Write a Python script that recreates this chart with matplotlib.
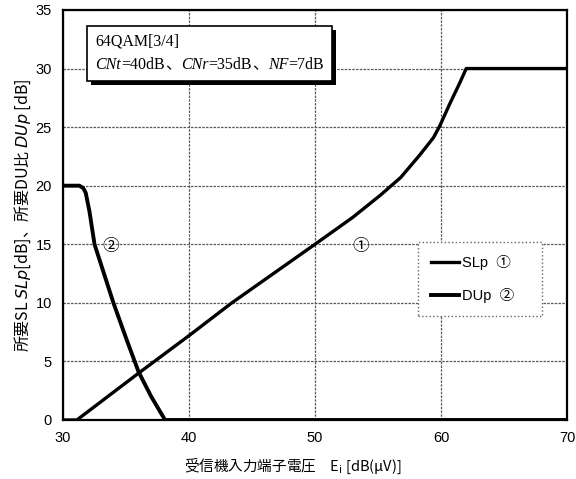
import matplotlib
matplotlib.use("Agg")
import matplotlib.pyplot as plt
import matplotlib.patheffects as pe
from matplotlib.offsetbox import TextArea, HPacker, VPacker, AnchoredOffsetbox

plt.rcParams['font.family'] = ['Liberation Sans', 'Noto Sans CJK JP', 'DejaVu Sans']

# ---- data ----
slp_x = [30, 31.1, 36.0, 40.0, 43.4, 50.0, 53.0, 55.2, 56.8, 58.3, 59.4, 59.9, 60.7, 61.5, 62.0, 70]
slp_y = [0, 0, 4.0, 7.2, 10.0, 15.0, 17.3, 19.2, 20.7, 22.6, 24.1, 25.1, 27.0, 28.8, 30.0, 30]

dup_x = [30, 31.3, 31.6, 31.8, 32.1, 32.5, 34.0, 35.0, 36.0, 37.0, 38.1, 70]
dup_y = [20, 20, 19.8, 19.4, 17.8, 15.0, 10.0, 7.0, 4.1, 2.0, 0, 0]

x_ticks = [30, 40, 50, 60, 70]
y_ticks = [0, 5, 10, 15, 20, 25, 30, 35]

# condition text pieces: (text, italic?)
cond_title = '64QAM[3/4]'
cond_parts = [('CNt', True), ('=40dB', False), ('、', False),
              ('CNr', True), ('=35dB', False), ('、', False),
              ('NF', True), ('=7dB', False)]

# ---- figure ----
fig = plt.figure(figsize=(5.76, 4.79), dpi=100)
ax = fig.add_axes([0.1094, 0.1232, 0.875, 0.856])

ax.plot(slp_x, slp_y, color='black', lw=2.4, label='SLp  ①', solid_joinstyle='round')
ax.plot(dup_x, dup_y, color='black', lw=2.8, label='DUp  ②', solid_joinstyle='round')

ax.set_xlim(30, 70)
ax.set_ylim(0, 35)
ax.set_xticks(x_ticks)
ax.set_yticks(y_ticks)
ax.tick_params(length=0, labelsize=10.5, pad=8)
ax.grid(True, color='0.35', lw=0.9, ls=(0, (2, 1)))
ax.set_axisbelow(True)
for s in ax.spines.values():
    s.set_linewidth(1.6)

lbl_font = ['Noto Sans CJK JP']
ax.set_xlabel('受信機入力端子電圧　E$_{\\rm i}$ [dB(μV)]', fontsize=10.5,
              family=lbl_font, math_fontfamily='dejavusans')
ax.xaxis.set_label_coords(0.455, -0.09)
ax.set_ylabel('所要SL $\\mathit{SLp}$[dB]、所要DU比 $\\mathit{DUp}$ [dB]', fontsize=11.5,
              labelpad=2, family=lbl_font, math_fontfamily='dejavusans')

# curve markers
ax.text(33.8, 14.8, '②', fontsize=12, ha='center', va='center', family=lbl_font)
ax.text(53.6, 14.8, '①', fontsize=12, ha='center', va='center', family=lbl_font)

# condition box
serif = ['Liberation Serif', 'Noto Sans CJK JP']
fs = 11.5
row2 = HPacker(children=[TextArea(s, textprops=dict(family=serif, fontsize=fs,
                                                    style='italic' if it else 'normal'))
                         for s, it in cond_parts], pad=0, sep=0, align='baseline')
row1 = TextArea(cond_title, textprops=dict(family=serif, fontsize=fs))
box = VPacker(children=[row1, row2], pad=0, sep=5, align='left')
anc = AnchoredOffsetbox(loc='upper left', child=box, pad=0.6, borderpad=0,
                        bbox_to_anchor=(0.0476, 0.962), bbox_transform=ax.transAxes,
                        frameon=True)
anc.patch.set_boxstyle('square', pad=0)
anc.patch.set_edgecolor('black')
anc.patch.set_linewidth(1.2)
anc.patch.set_path_effects([
    pe.SimplePatchShadow(offset=(3, -3), shadow_rgbFace='black', alpha=1.0),
    pe.Normal()])
ax.add_artist(anc)

# legend
leg = ax.legend(loc='center', bbox_to_anchor=(0.704, 0.256, 0.246, 0.176), mode='expand',
                fontsize=10.5, handlelength=1.9, handletextpad=0.2, labelspacing=1.2,
                borderpad=0.9, borderaxespad=0,
                frameon=True, fancybox=False, edgecolor='0.4', framealpha=1)
leg.get_frame().set_linestyle(':')
leg.get_frame().set_linewidth(1.0)

fig.savefig('out.png', dpi=100)
